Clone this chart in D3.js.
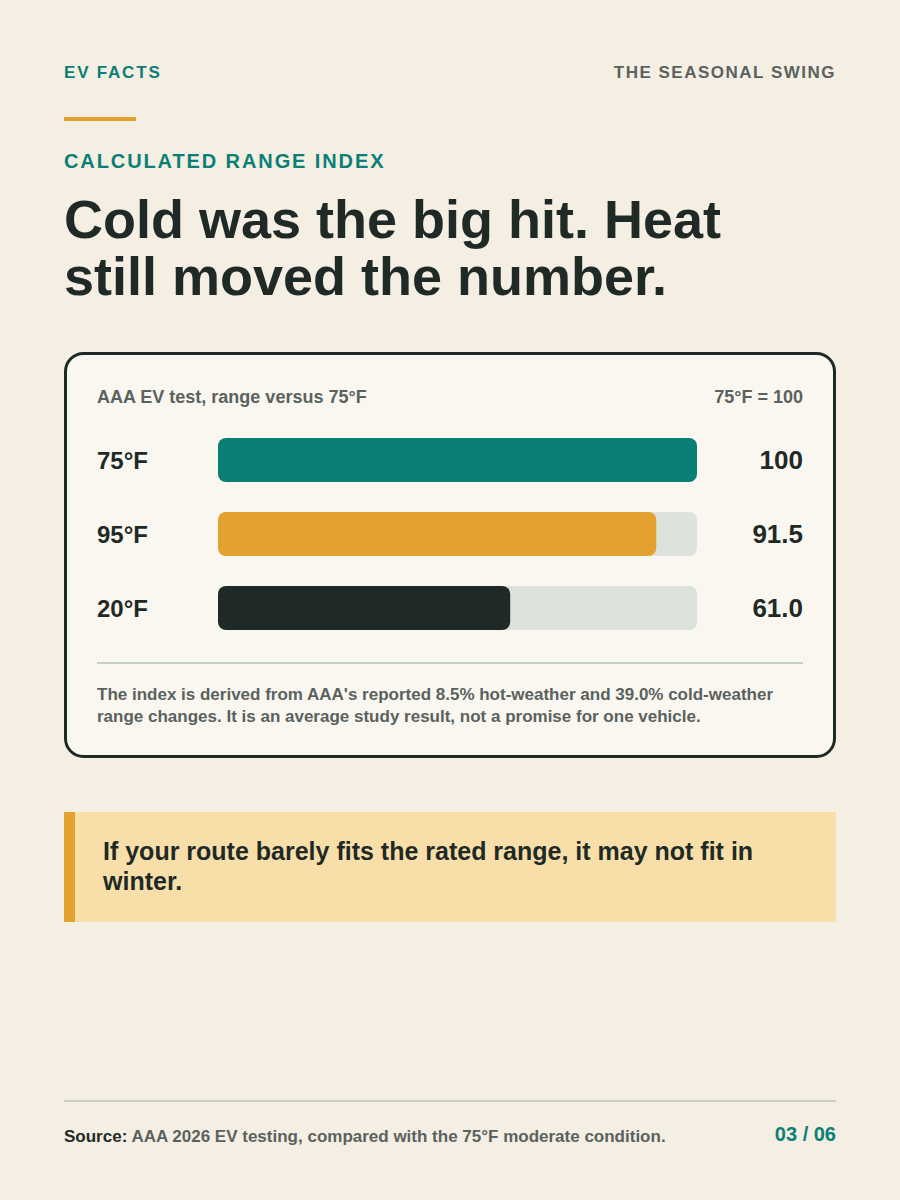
<!DOCTYPE html>
<html>
<head>
  <meta charset="utf-8">
  <title>The Seasonal Swing</title>
  <script src="https://d3js.org/d3.v7.min.js"></script>
  <style>
    body { margin: 0; background: #f4eee3; }
    svg text { font-family: "Liberation Sans", Arial, sans-serif; font-weight: bold; }
  </style>
</head>
<body>
  <svg id="card"></svg>
  <script>
    // Data
    const categories = ["75°F", "95°F", "20°F"];
    const indexValues = [100, 91.5, 61.0];
    const valueLabels = ["100", "91.5", "61.0"];
    const barColors = ["#0a7f76", "#e3a22f", "#1f2a27"];
    const indexDomain = [0, 100];

    const width = 900, height = 1200;
    const ink = "#1f2a27", grey = "#5a625f", teal = "#0a7f76", gold = "#e3a22f";

    const svg = d3.select("#card")
      .attr("width", width)
      .attr("height", height)
      .style("display", "block")
      .style("background-color", "#f4eee3");

    // Header
    svg.append("text")
      .attr("x", 64).attr("y", 78)
      .style("font-size", "17px").style("letter-spacing", "1.8px")
      .style("fill", teal)
      .text("EV FACTS");

    svg.append("text")
      .attr("x", 836).attr("y", 78)
      .attr("text-anchor", "end")
      .style("font-size", "17px").style("letter-spacing", "1.5px")
      .style("fill", grey)
      .text("THE SEASONAL SWING");

    svg.append("rect")
      .attr("x", 64).attr("y", 117).attr("width", 72).attr("height", 4)
      .style("fill", gold);

    svg.append("text")
      .attr("x", 64).attr("y", 168)
      .style("font-size", "20px").style("letter-spacing", "1.9px")
      .style("fill", teal)
      .text("CALCULATED RANGE INDEX");

    // Headline
    const headline = ["Cold was the big hit. Heat", "still moved the number."];
    svg.selectAll(".headline")
      .data(headline)
      .enter().append("text")
      .attr("class", "headline")
      .attr("x", 64)
      .attr("y", (d, i) => 238 + i * 57)
      .style("font-size", "54px")
      .style("fill", ink)
      .text(d => d);

    // Chart card
    svg.append("rect")
      .attr("x", 65.5).attr("y", 353.5).attr("width", 769).attr("height", 403)
      .attr("rx", 18)
      .style("fill", "#faf7f0")
      .style("stroke", ink)
      .style("stroke-width", 3);

    svg.append("text")
      .attr("x", 97).attr("y", 403)
      .style("font-size", "18px")
      .style("fill", grey)
      .text("AAA EV test, range versus 75°F");

    svg.append("text")
      .attr("x", 803).attr("y", 403)
      .attr("text-anchor", "end")
      .style("font-size", "18px")
      .style("fill", grey)
      .text("75°F = 100");

    // Scales
    const xScale = d3.scaleLinear()
      .domain(indexDomain)
      .range([218, 697]);

    const yScale = d3.scaleBand()
      .domain(categories)
      .range([438, 630])
      .paddingInner(30 / 74)
      .paddingOuter(0);

    const rows = svg.selectAll(".row")
      .data(categories.map((c, i) => ({ cat: c, value: indexValues[i], label: valueLabels[i], color: barColors[i] })))
      .enter().append("g")
      .attr("class", "row");

    // Background track
    rows.append("rect")
      .attr("x", xScale(indexDomain[0]))
      .attr("y", d => yScale(d.cat))
      .attr("width", xScale(indexDomain[1]) - xScale(indexDomain[0]))
      .attr("height", yScale.bandwidth())
      .attr("rx", 8)
      .style("fill", "#dde2dc");

    // Value bar
    rows.append("rect")
      .attr("x", xScale(0))
      .attr("y", d => yScale(d.cat))
      .attr("width", d => xScale(d.value) - xScale(0))
      .attr("height", yScale.bandwidth())
      .attr("rx", 8)
      .style("fill", d => d.color);

    rows.append("text")
      .attr("x", 97)
      .attr("y", d => yScale(d.cat) + yScale.bandwidth() / 2)
      .attr("dy", "0.36em")
      .style("font-size", "24px")
      .style("fill", ink)
      .text(d => d.cat);

    rows.append("text")
      .attr("x", 803)
      .attr("y", d => yScale(d.cat) + yScale.bandwidth() / 2)
      .attr("dy", "0.36em")
      .attr("text-anchor", "end")
      .style("font-size", "26px")
      .style("fill", ink)
      .text(d => d.label);

    // Divider + note
    svg.append("line")
      .attr("x1", 97).attr("x2", 803)
      .attr("y1", 663).attr("y2", 663)
      .style("stroke", "#c9cfc8").style("stroke-width", 2);

    const note = [
      "The index is derived from AAA's reported 8.5% hot-weather and 39.0% cold-weather",
      "range changes. It is an average study result, not a promise for one vehicle."
    ];
    svg.selectAll(".note")
      .data(note)
      .enter().append("text")
      .attr("class", "note")
      .attr("x", 97)
      .attr("y", (d, i) => 700 + i * 22)
      .style("font-size", "17px")
      .style("fill", grey)
      .text(d => d);

    // Callout
    svg.append("rect")
      .attr("x", 64).attr("y", 812).attr("width", 772).attr("height", 110)
      .style("fill", "#f8dfa9");
    svg.append("rect")
      .attr("x", 64).attr("y", 812).attr("width", 11).attr("height", 110)
      .style("fill", gold);

    const callout = ["If your route barely fits the rated range, it may not fit in", "winter."];
    svg.selectAll(".callout")
      .data(callout)
      .enter().append("text")
      .attr("class", "callout")
      .attr("x", 103)
      .attr("y", (d, i) => 860 + i * 30)
      .style("font-size", "25px")
      .style("fill", ink)
      .text(d => d);

    // Footer
    svg.append("line")
      .attr("x1", 64).attr("x2", 836)
      .attr("y1", 1101).attr("y2", 1101)
      .style("stroke", "#c9cfc8").style("stroke-width", 2);

    const source = svg.append("text")
      .attr("x", 64).attr("y", 1142)
      .style("font-size", "17px")
      .style("fill", grey);
    source.append("tspan").style("fill", ink).text("Source:");
    source.append("tspan").text(" AAA 2026 EV testing, compared with the 75°F moderate condition.");

    svg.append("text")
      .attr("x", 836).attr("y", 1141)
      .attr("text-anchor", "end")
      .style("font-size", "20px")
      .style("fill", teal)
      .text("03 / 06");
  </script>
</body>
</html>
